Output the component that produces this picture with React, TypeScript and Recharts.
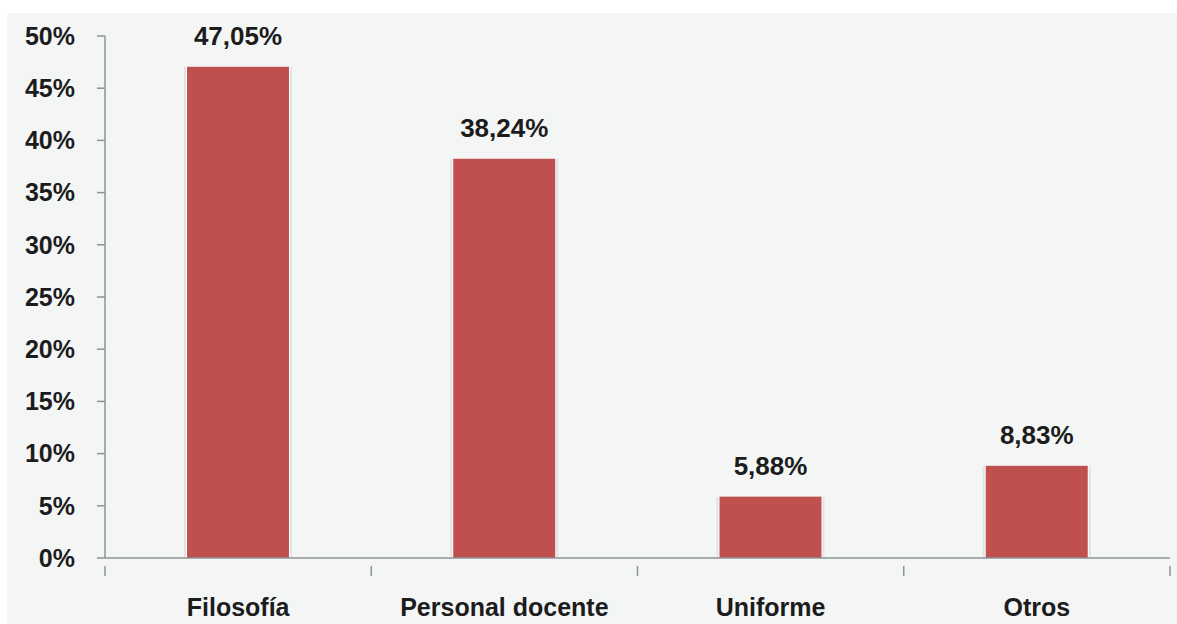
import React from 'react';
import { BarChart, Bar, XAxis, YAxis, LabelList } from 'recharts';

const categories = ['Filosofía', 'Personal docente', 'Uniforme', 'Otros'];
const values = [47.05, 38.24, 5.88, 8.83];
const yTicks = [0, 5, 10, 15, 20, 25, 30, 35, 40, 45, 50];

const data = categories.map((name, i) => ({ name, value: values[i] }));

const AXIS = '#8f9396';
const BAR = '#C0504D';
const TEXT = '#1c1c1c';

// bar with a soft grey halo like the old Excel export
const BarShape = (props: any) => {
  const { x, y, width, height } = props;
  if (height <= 0) return null;
  return (
    <g>
      <rect x={x - 3} y={y} width={width + 6} height={height} fill="#d4d6d8" opacity={0.6} />
      <rect x={x - 1} y={y} width={width + 2} height={height} fill="#ffffff" />
      <rect x={x} y={y} width={width} height={height} fill={BAR} />
    </g>
  );
};

// category label plus tick marks at the band edges
const CategoryTick = (props: any) => {
  const { x, y, payload, index } = props;
  const half = payload.offset || 0;
  return (
    <g>
      <line x1={x - half} y1={y} x2={x - half} y2={y + 10} stroke={AXIS} strokeWidth={1.5} />
      {index === categories.length - 1 && (
        <line x1={x + half} y1={y} x2={x + half} y2={y + 10} stroke={AXIS} strokeWidth={1.5} />
      )}
      <text
        x={x}
        y={y + 50}
        textAnchor="middle"
        fill={TEXT}
        fontSize={25}
        fontWeight="bold"
        fontFamily="'Liberation Sans', Arial, sans-serif"
      >
        {payload.value}
      </text>
    </g>
  );
};

const fmt = (v: any) => Number(v).toFixed(2).replace('.', ',') + '%';

export default function App() {
  return (
    <div style={{ position: 'absolute', left: 0, top: 0, width: 1177, height: 624, background: '#ffffff' }}>
      <div style={{ position: 'absolute', left: 7, top: 13, width: 1170, height: 611, background: '#f4f6f6' }} />
      <div style={{ position: 'absolute', left: 0, top: 0 }}>
        <BarChart
          width={1177}
          height={624}
          data={data}
          margin={{ top: 36, right: 7, bottom: 0, left: 0 }}
          barCategoryGap={0}
        >
          <YAxis
            type="number"
            domain={[0, 50]}
            ticks={yTicks}
            interval={0}
            width={105}
            tickFormatter={(v) => `${v}%`}
            axisLine={{ stroke: AXIS, strokeWidth: 1.5 }}
            tickLine={{ stroke: AXIS, strokeWidth: 1.5 }}
            tickSize={8}
            tickMargin={22}
            tick={{ fill: TEXT, fontSize: 25, fontWeight: 'bold', fontFamily: "'Liberation Sans', Arial, sans-serif" }}
          />
          <XAxis
            dataKey="name"
            height={66}
            interval={0}
            axisLine={{ stroke: AXIS, strokeWidth: 1.5 }}
            tickLine={false}
            tick={<CategoryTick />}
          />
          <Bar dataKey="value" barSize={102} shape={<BarShape />} isAnimationActive={false}>
            <LabelList
              dataKey="value"
              position="top"
              offset={22}
              formatter={fmt}
              fill={TEXT}
              fontSize={26}
              fontWeight="bold"
              fontFamily="'Liberation Sans', Arial, sans-serif"
            />
          </Bar>
        </BarChart>
      </div>
    </div>
  );
}
